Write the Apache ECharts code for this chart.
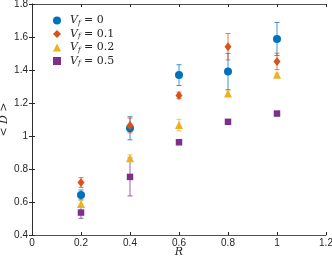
<!DOCTYPE html>
<html>
<head>
<meta charset="utf-8">
<script src="https://cdn.jsdelivr.net/npm/echarts@6/dist/echarts.min.js"></script>
<style>
  html, body { margin: 0; padding: 0; background: #fff; }
  #chart { width: 332px; height: 262px; }
</style>
</head>
<body>
<div id="chart"></div>
<script>
// R values
const rValues = [0.2, 0.4, 0.6, 0.8, 1.0]

// mean <D> per Vf
const meanVf0 = [0.643, 1.047, 1.369, 1.391, 1.588]
const meanVf01 = [0.718, 1.064, 1.246, 1.541, 1.452]
const meanVf02 = [0.588, 0.865, 1.066, 1.258, 1.371]
const meanVf05 = [0.536, 0.752, 0.962, 1.086, 1.136]

// half-width of error bars
const errVf0 = [0.03, 0.07, 0.063, 0.11, 0.1]
const errVf01 = [0.03, 0.045, 0.02, 0.08, 0.05]
const errVf02 = [0.02, 0.02, 0.035, 0.015, 0.01]
const errVf05 = [0.035, 0.115, 0.005, 0.005, 0.005]

const vfLabels = ['0', '0.1', '0.2', '0.5']

const colors = ['#0072BD', '#D95319', '#EDB120', '#7E2F8E']
const symbols = ['circle', 'diamond', 'triangle', 'rect']
const sizes = [8, [7, 9], 8, 6.5]
const means = [meanVf0, meanVf01, meanVf02, meanVf05]
const errs = [errVf0, errVf01, errVf02, errVf05]

const chart = echarts.init(document.getElementById('chart'))

const axisColor = '#262626'
const labelFont = { color: axisColor, fontFamily: 'Liberation Sans', fontSize: 10 }

const series = []
means.forEach((m, i) => {
  series.push({
    name: 'err' + i, type: 'custom', z: 2,
    data: rValues.map((r, j) => [r, m[j] - errs[i][j], m[j] + errs[i][j]]),
    renderItem: (params, api) => {
      const lo = api.coord([api.value(0), api.value(1)])
      const hi = api.coord([api.value(0), api.value(2)])
      const cap = 2.5
      const style = { stroke: colors[i], lineWidth: 1, opacity: 0.75 }
      return {
        type: 'group',
        children: [
          { type: 'line', shape: { x1: lo[0], y1: lo[1], x2: hi[0], y2: hi[1] }, style },
          { type: 'line', shape: { x1: lo[0] - cap, y1: lo[1], x2: lo[0] + cap, y2: lo[1] }, style },
          { type: 'line', shape: { x1: hi[0] - cap, y1: hi[1], x2: hi[0] + cap, y2: hi[1] }, style },
        ],
      }
    },
  })
  series.push({
    name: 'V' + i, type: 'scatter', z: 3,
    symbol: symbols[i], symbolSize: sizes[i],
    data: rValues.map((r, j) => [r, m[j]]),
    itemStyle: { color: colors[i], opacity: 1 },
  })
})

chart.setOption({
  animation: false,
  grid: { left: 32, right: 6, top: 4, bottom: 27, outerBoundsMode: 'none' },
  legend: {
    orient: 'vertical', left: 48, top: 10, itemGap: 2,
    itemWidth: 8, itemHeight: 8,
    data: [0, 1, 2, 3].map(i => ({ name: 'V' + i, icon: symbols[i] })),
    formatter: name => {
      const k = Number(name.slice(1))
      return '{v|V}{s|f}{t| = ' + vfLabels[k] + '}'
    },
    textStyle: {
      color: axisColor,
      rich: {
        v: { fontFamily: 'DejaVu Serif', fontStyle: 'italic', fontSize: 11, color: axisColor, padding: [0, 0, 0, 4] },
        s: { fontFamily: 'DejaVu Serif', fontStyle: 'italic', fontSize: 7, color: axisColor, padding: [5, 0, 0, 0] },
        t: { fontFamily: 'DejaVu Serif', fontSize: 11, color: axisColor },
      },
    },
  },
  xAxis: [
    {
      type: 'value', min: 0, max: 1.2, interval: 0.2,
      name: 'R', nameLocation: 'middle', nameGap: 12, nameMoveOverlap: false,
      nameTextStyle: { fontFamily: 'DejaVu Serif', fontStyle: 'italic', fontSize: 11, color: axisColor },
      axisLine: { lineStyle: { color: axisColor, width: 0.8 } },
      axisTick: { inside: true, length: 3, lineStyle: { color: axisColor } },
      axisLabel: { ...labelFont, margin: 3 },
      splitLine: { show: false },
    },
    {
      type: 'value', min: 0, max: 1.2, interval: 0.2, position: 'top',
      axisLine: { show: true, lineStyle: { color: axisColor, width: 0.8 } },
      axisTick: { inside: true, length: 3, lineStyle: { color: axisColor } },
      axisLabel: { show: false },
      splitLine: { show: false },
    },
  ],
  yAxis: [
    {
      type: 'value', min: 0.4, max: 1.8, interval: 0.2,
      name: '{a|<} {d|D} {a|>}', nameLocation: 'middle', nameGap: 22, nameMoveOverlap: false,
      nameTextStyle: {
        color: axisColor,
        rich: {
          a: { fontFamily: 'DejaVu Serif', fontSize: 11, color: axisColor },
          d: { fontFamily: 'DejaVu Serif', fontStyle: 'italic', fontSize: 11, color: axisColor },
        },
      },
      axisLine: { show: true, lineStyle: { color: axisColor, width: 0.8 } },
      axisTick: { show: true, inside: true, length: 3, lineStyle: { color: axisColor } },
      axisLabel: { ...labelFont, margin: 4 },
      splitLine: { show: false },
    },
    {
      type: 'value', min: 0.4, max: 1.8, interval: 0.2, position: 'right',
      axisLine: { show: true, lineStyle: { color: axisColor, width: 0.8 } },
      axisTick: { show: true, inside: true, length: 3, lineStyle: { color: axisColor } },
      axisLabel: { show: false },
      splitLine: { show: false },
    },
  ],
  series,
})
</script>
</body>
</html>
